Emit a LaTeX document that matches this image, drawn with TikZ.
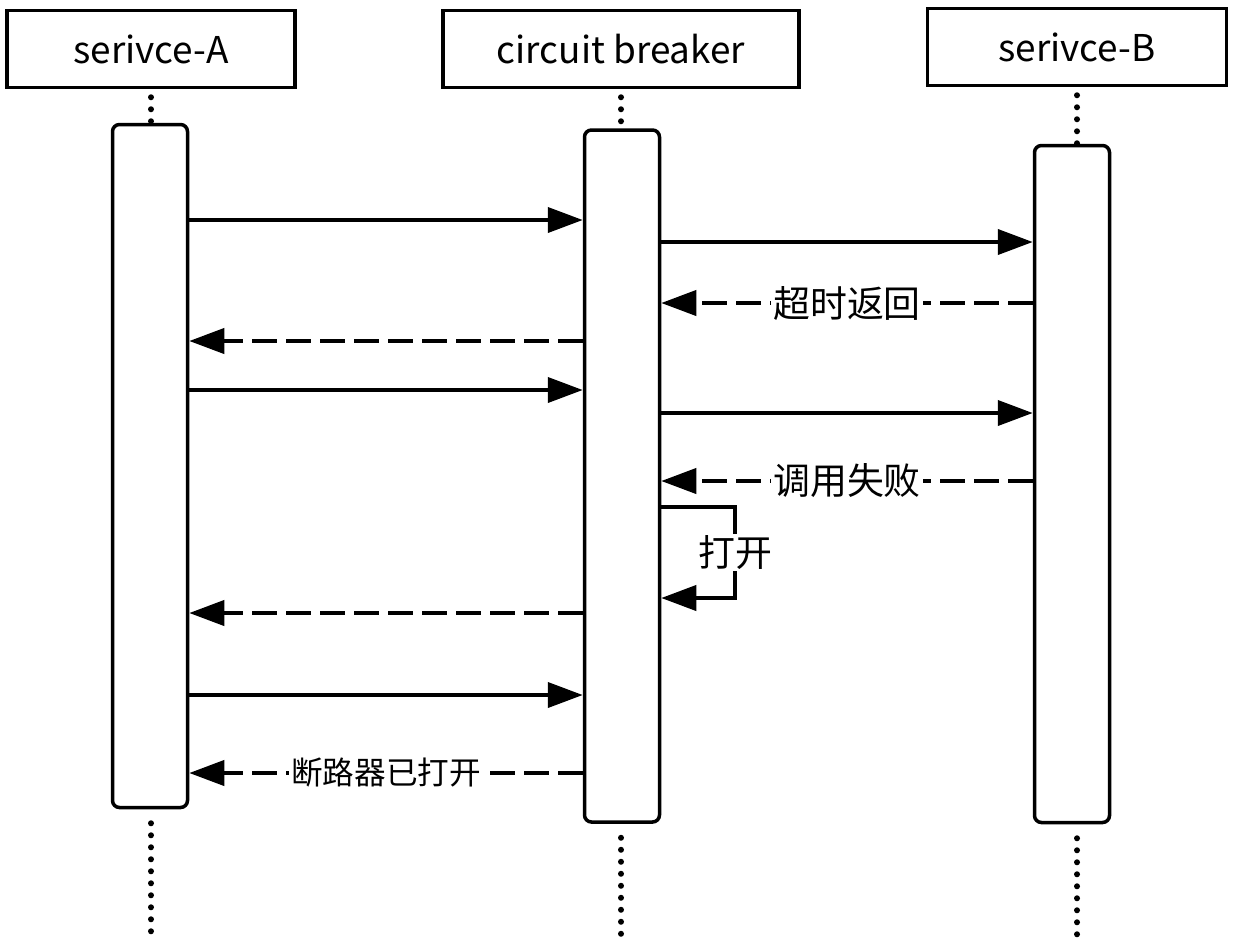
\documentclass[tikz,border=0pt]{standalone}
\usepackage{fontspec}
\setmainfont{Noto Sans CJK SC}
\usetikzlibrary{arrows.meta}

\begin{document}
\begin{tikzpicture}[x=0.2mm,y=-0.2mm,
		head/.style={draw, line width=0.7mm, minimum width=#1, minimum height=15.4mm, inner sep=0pt, font=\fontsize{21}{24}\selectfont},
		act/.style={draw, line width=0.7mm, rounded corners=1.4mm, minimum width=15mm, minimum height=#1, inner sep=0pt},
		msg/.style={line width=0.8mm, -{Triangle[length=7mm,width=5mm]}},
		ret/.style={msg, dash pattern=on 5mm off 1.8mm},
		life/.style={line width=1.2mm, line cap=round, dash pattern=on 0pt off 2.4mm},
		lbl/.style={fill=white, inner sep=1pt, font=\fontsize{21}{24}\selectfont}]
		\useasboundingbox (0,0) rectangle (1240,946);

		% participants
		\node[head=57.6mm] (headA) at (151,49) {serivce-A};
		\node[head=71.2mm] (headC) at (621,49) {circuit breaker};
		\node[head=59.8mm] (headB) at (1077,47) {serivce-B};

		\node[act=136.6mm] (actA) at (150,466) {};
		\node[act=138.4mm] (actC) at (622,476) {};
		\node[act=135.4mm] (actB) at (1072,484) {};

		% lifelines
		\draw[life] (headA.south) ++(0,8) -- (headA.south |- actA.north);
		\draw[life] (headC.south) ++(0,8) -- (headC.south |- actC.north);
		\draw[life] (headB.south) ++(0,8) -- (headB.south |- actB.north);
		\draw[life] (headA.south |- actA.south) ++(0,14) -- ++(0,114);
		\draw[life] (headC.south |- actC.south) ++(0,14) -- ++(0,100);
		\draw[life] (headB.south |- actB.south) ++(0,14) -- ++(0,100);

		% messages
		\draw[msg] (actA.east |- 0,220) -- (actC.west |- 0,220);
		\draw[msg] (actC.east |- 0,242) -- (actB.west |- 0,242);
		\draw[ret] (actB.west |- 0,303) -- node[lbl] {超时返回} (actC.east |- 0,303);
		\draw[ret] (actC.west |- 0,341) -- (actA.east |- 0,341);
		\draw[msg] (actA.east |- 0,390) -- (actC.west |- 0,390);
		\draw[msg] (actC.east |- 0,413) -- (actB.west |- 0,413);
		\draw[ret] (actB.west |- 0,481) -- node[lbl] {调用失败} (actC.east |- 0,481);
		\draw[msg] (actC.east |- 0,507) -- ++(74,0) -- node[lbl] {打开} ++(0,91) -- (actC.east |- 0,598);
		\draw[ret] (actC.west |- 0,613) -- (actA.east |- 0,613);
		\draw[msg] (actA.east |- 0,695) -- (actC.west |- 0,695);
		\draw[ret] (actC.west |- 0,773) -- node[lbl, font=\fontsize{18}{20}\selectfont] {断路器已打开} (actA.east |- 0,773);
	\end{tikzpicture}
\end{document}
